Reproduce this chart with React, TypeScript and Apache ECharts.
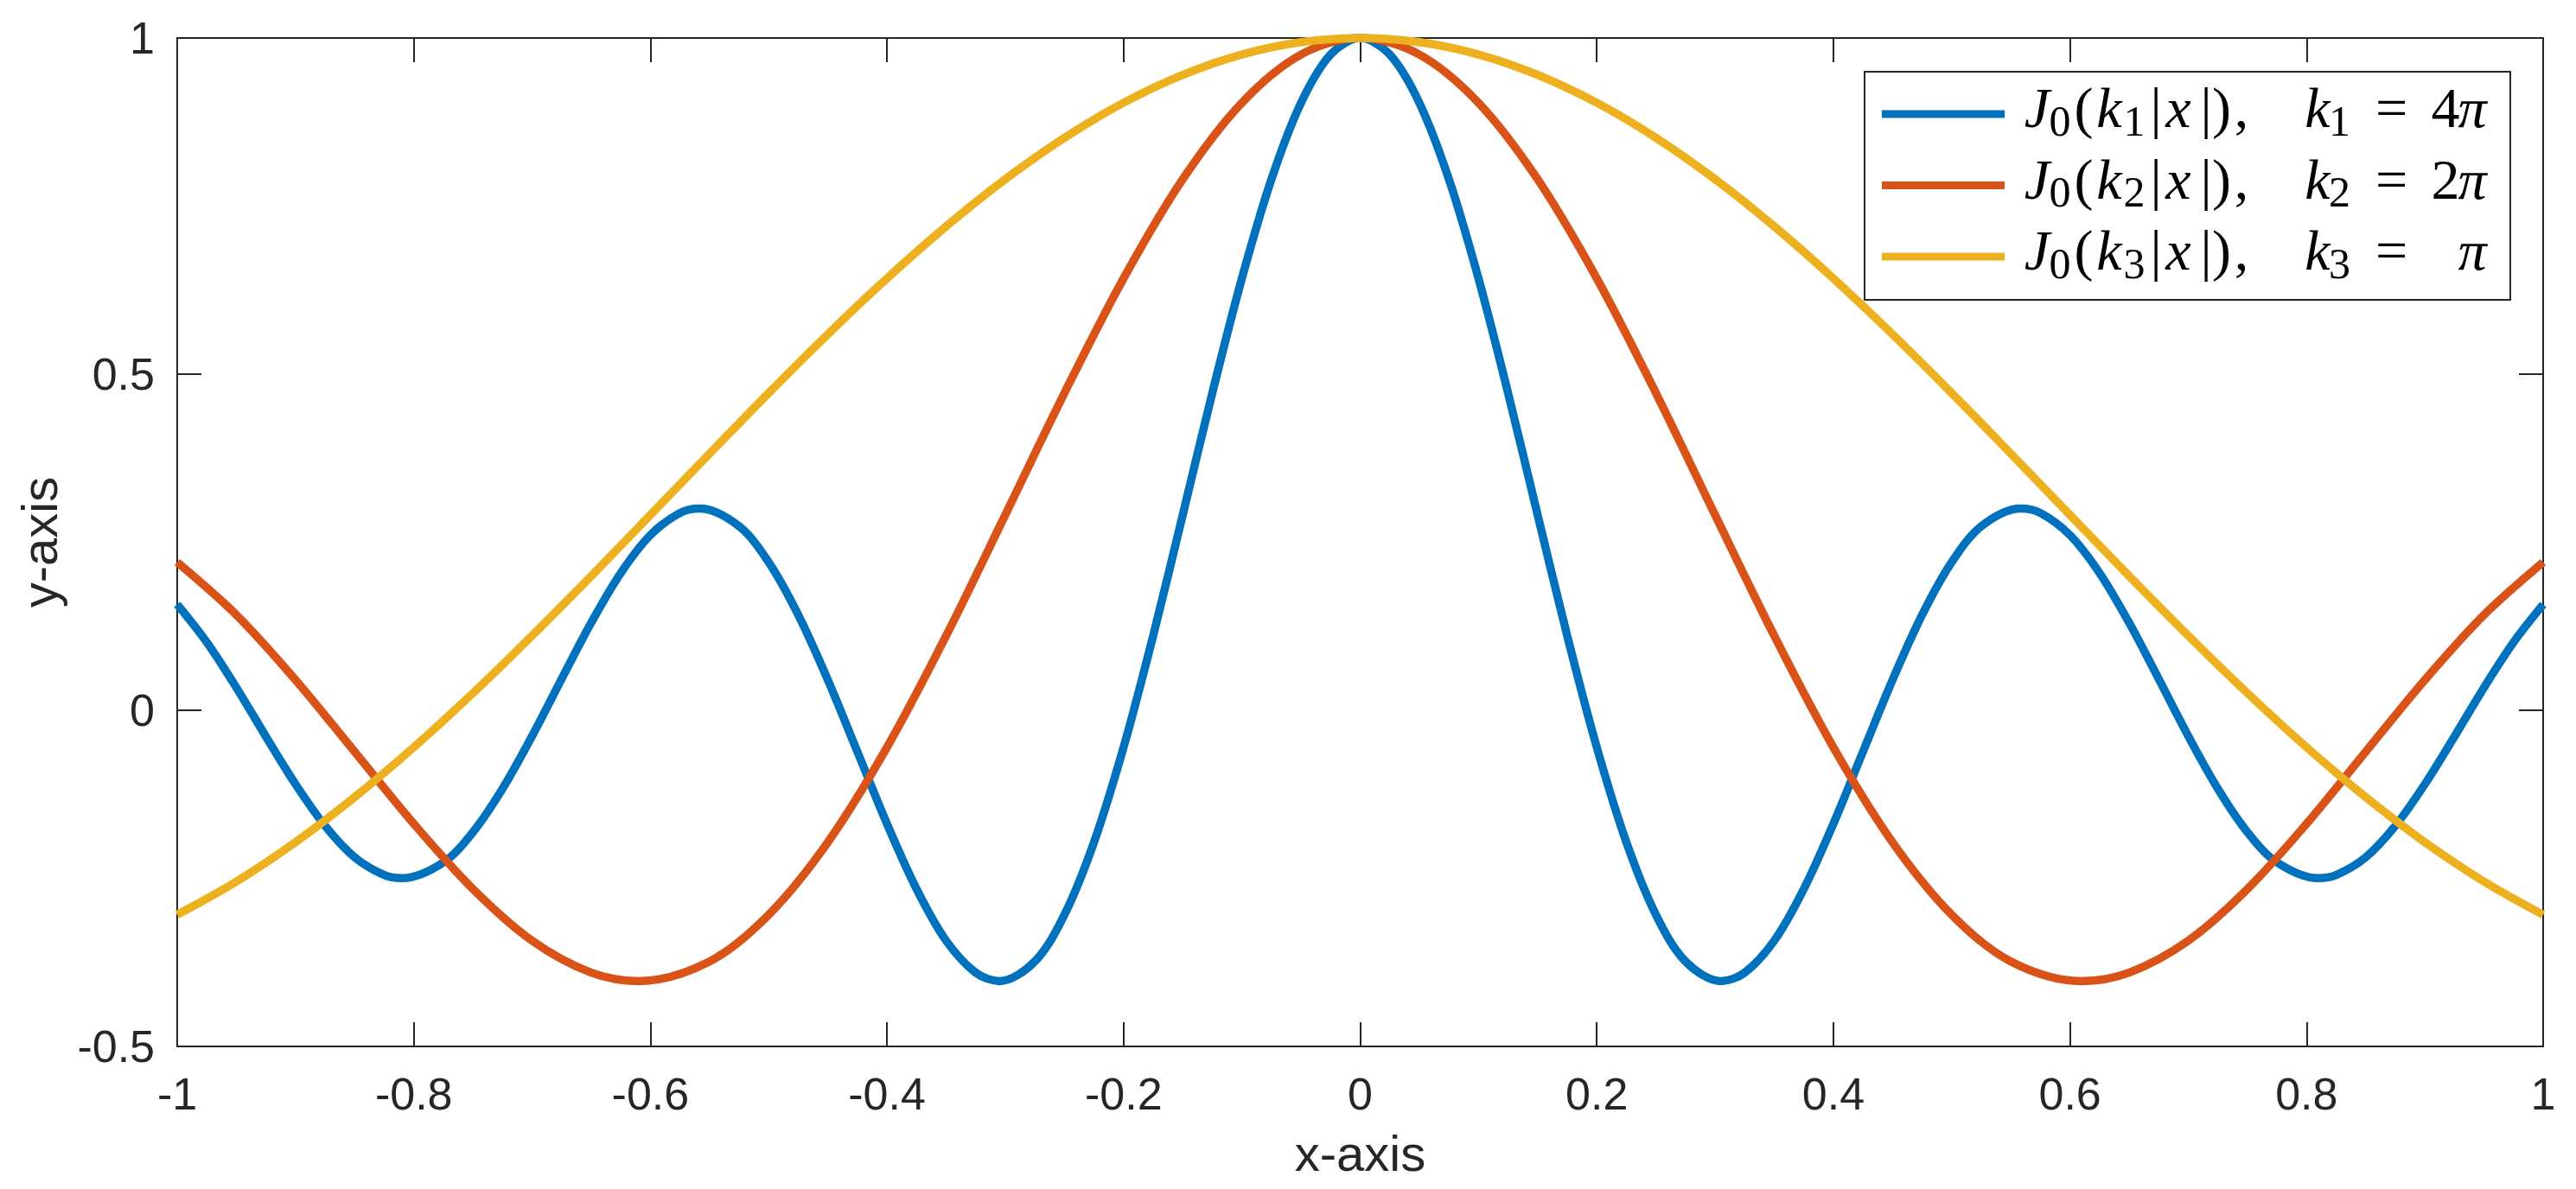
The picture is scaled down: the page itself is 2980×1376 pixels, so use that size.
import React, { useEffect, useRef } from 'react';
import * as echarts from 'echarts';

const X_FINE = [
  -1, -0.975, -0.95, -0.925, -0.9, -0.875, -0.85, -0.825, -0.8096, -0.775,
  -0.75, -0.725, -0.7, -0.675, -0.65, -0.625, -0.6, -0.575, -0.5583, -0.525,
  -0.5, -0.475, -0.45, -0.425, -0.4, -0.375, -0.35, -0.325, -0.3049, -0.275,
  -0.25, -0.225, -0.2, -0.175, -0.15, -0.125, -0.1, -0.075, -0.05, -0.025,
  0,
  0.025, 0.05, 0.075, 0.1, 0.125, 0.15, 0.175, 0.2, 0.225, 0.25,
  0.275, 0.3049, 0.325, 0.35, 0.375, 0.4, 0.425, 0.45, 0.475, 0.5,
  0.525, 0.5583, 0.575, 0.6, 0.625, 0.65, 0.675, 0.7, 0.725, 0.75,
  0.775, 0.8096, 0.825, 0.85, 0.875, 0.9, 0.925, 0.95, 0.975, 1,
];

const X_COARSE = [
  -1, -0.95, -0.9, -0.85, -0.8, -0.75, -0.7, -0.65, -0.6098, -0.55,
  -0.5, -0.45, -0.4, -0.35, -0.3, -0.25, -0.2, -0.15, -0.1, -0.05,
  0,
  0.05, 0.1, 0.15, 0.2, 0.25, 0.3, 0.35, 0.4, 0.45, 0.5,
  0.55, 0.6098, 0.65, 0.7, 0.75, 0.8, 0.85, 0.9, 0.95, 1,
];

const X_YELLOW = [
  -1, -0.95, -0.9, -0.85, -0.8, -0.75, -0.7, -0.65, -0.6, -0.55,
  -0.5, -0.45, -0.4, -0.35, -0.3, -0.25, -0.2, -0.15, -0.1, -0.05,
  0,
  0.05, 0.1, 0.15, 0.2, 0.25, 0.3, 0.35, 0.4, 0.45, 0.5,
  0.55, 0.6, 0.65, 0.7, 0.75, 0.8, 0.85, 0.9, 0.95, 1,
];

// J0(4π|x|) read at X_FINE
const BLUE = [
  0.1575, 0.1013, 0.0338, -0.0391, -0.1099, -0.172, -0.2187, -0.2451, -0.2497, -0.2262,
  -0.1812, -0.1166, -0.0383, 0.0467, 0.1304, 0.2043, 0.2606, 0.2936, 0.3001, 0.2737,
  0.2203, 0.1419, 0.0452, -0.0617, -0.1688, -0.2658, -0.3427, -0.3903, -0.4028, -0.3736,
  -0.3042, -0.1962, -0.055, 0.1109, 0.2906, 0.472, 0.6425, 0.79, 0.9037, 0.9755,
  1,
  0.9755, 0.9037, 0.79, 0.6425, 0.472, 0.2906, 0.1109, -0.055, -0.1962, -0.3042,
  -0.3736, -0.4028, -0.3903, -0.3427, -0.2658, -0.1688, -0.0617, 0.0452, 0.1419, 0.2203,
  0.2737, 0.3001, 0.2936, 0.2606, 0.2043, 0.1304, 0.0467, -0.0383, -0.1166, -0.1812,
  -0.2262, -0.2497, -0.2451, -0.2187, -0.172, -0.1099, -0.0391, 0.0338, 0.1013, 0.1575,
];

// J0(2π|x|) read at X_COARSE
const RED = [
  0.2203, 0.1419, 0.0452, -0.0617, -0.1688, -0.2658, -0.3427, -0.3903, -0.4028, -0.3736,
  -0.3042, -0.1962, -0.055, 0.1109, 0.2906, 0.472, 0.6425, 0.79, 0.9037, 0.9755,
  1,
  0.9755, 0.9037, 0.79, 0.6425, 0.472, 0.2906, 0.1109, -0.055, -0.1962, -0.3042,
  -0.3736, -0.4028, -0.3903, -0.3427, -0.2658, -0.1688, -0.0617, 0.0452, 0.1419, 0.2203,
];

// J0(π|x|) read at X_YELLOW
const YELLOW = [
  -0.3042, -0.2548, -0.1962, -0.1292, -0.055, 0.0255, 0.1109, 0.1997, 0.2906, 0.3818,
  0.472, 0.5594, 0.6425, 0.7198, 0.79, 0.8516, 0.9037, 0.9452, 0.9755, 0.9938,
  1,
  0.9938, 0.9755, 0.9452, 0.9037, 0.8516, 0.79, 0.7198, 0.6425, 0.5594, 0.472,
  0.3818, 0.2906, 0.1997, 0.1109, 0.0255, -0.055, -0.1292, -0.1962, -0.2548, -0.3042,
];

const SERIES_NAMES = [
  'J0(k1|x|),   k1 = 4π',
  'J0(k2|x|),   k2 = 2π',
  'J0(k3|x|),   k3 = π',
];
const SERIES_COLORS = ['#0072BD', '#D95319', '#EDB120'];
const SUBS = ['1', '2', '3'];
const COEFS = ['4', '2', '\u00a0'];

const AXIS_COLOR = '#262626';

const italic = (width: number) => ({
  fontFamily: 'Liberation Serif', fontStyle: 'italic', fontSize: 66, lineHeight: 56,
  padding: [0, 0, 15, 0], width, align: 'center', color: '#000',
});
const upright = (width: number) => ({
  fontFamily: 'Liberation Serif', fontStyle: 'normal', fontSize: 66, lineHeight: 56,
  padding: [0, 0, 15, 0], width, align: 'center', color: '#000',
});
const sub = (width: number) => ({
  fontFamily: 'Liberation Serif', fontStyle: 'normal', fontSize: 50, lineHeight: 56,
  padding: [15, 0, 0, 0], width, align: 'center', color: '#000',
});

const LEGEND_RICH = {
  sp0: upright(14),
  J: italic(37),
  s0: sub(16),
  lp: upright(39),
  k: italic(20),
  s1: sub(38),
  b1: upright(12),
  x: italic(40),
  b2: upright(24),
  rp: upright(12),
  cm: upright(34),
  sp: upright(57),
  k2: italic(28),
  s2: sub(23),
  eq: upright(97),
  n: upright(28),
  pi: italic(34),
};

const legendText = (i: number) =>
  `{sp0|\u00a0}{J|J}{s0|0}{lp|(}{k|k}{s1|${SUBS[i]}}{b1||}{x|x}{b2||}{rp|)}{cm|,}` +
  `{sp|\u00a0}{k2|k}{s2|${SUBS[i]}}{eq|=}{n|${COEFS[i]}}{pi|π}`;

const fmtTick = (v: number) => {
  const r = Math.round(v * 10) / 10;
  return r === 0 ? '0' : String(r);
};

export default function App() {
  const ref = useRef<HTMLDivElement>(null);
  useEffect(() => {
    if (!ref.current) return;
    const chart = echarts.init(ref.current, undefined, { renderer: 'svg' });
    const tickStyle = { inside: true, length: 28, lineStyle: { color: AXIS_COLOR, width: 2 } };
    const hiddenLine = { show: false, onZero: false };
    const labelFont = { fontFamily: 'Liberation Sans', fontSize: 52, color: AXIS_COLOR };
    const nameFont = { fontFamily: 'Liberation Sans', fontSize: 58, color: AXIS_COLOR };
    const seriesData = [
      X_FINE.map((x, i) => [x, BLUE[i]]),
      X_COARSE.map((x, i) => [x, RED[i]]),
      X_YELLOW.map((x, i) => [x, YELLOW[i]]),
    ];
    chart.setOption({
      animation: false,
      backgroundColor: '#ffffff',
      color: SERIES_COLORS,
      grid: {
        left: 205, right: 38, top: 44, bottom: 165,
        show: true, borderColor: AXIS_COLOR, borderWidth: 2, backgroundColor: 'transparent',
      },
      legend: {
        show: true,
        data: SERIES_NAMES,
        orient: 'vertical',
        left: 2157,
        top: 83,
        padding: [8.5, 27, 9.5, 20],
        itemGap: 1.5,
        itemWidth: 142,
        itemHeight: 9,
        icon: 'rect',
        selectedMode: false,
        backgroundColor: '#ffffff',
        borderColor: AXIS_COLOR,
        borderWidth: 2,
        formatter: (name: string) => legendText(SERIES_NAMES.indexOf(name)),
        textStyle: { fontFamily: 'Liberation Serif', fontSize: 66, rich: LEGEND_RICH },
      },
      xAxis: [
        {
          type: 'value', min: -1, max: 1, interval: 0.2, position: 'bottom',
          axisLine: hiddenLine, axisTick: tickStyle, splitLine: { show: false },
          axisLabel: { ...labelFont, margin: 29, formatter: fmtTick },
          name: 'x-axis', nameLocation: 'middle', nameGap: 94, nameTextStyle: nameFont,
        },
        {
          type: 'value', min: -1, max: 1, interval: 0.2, position: 'top',
          axisLine: hiddenLine, axisTick: tickStyle, splitLine: { show: false },
          axisLabel: { show: false },
        },
      ],
      yAxis: [
        {
          type: 'value', min: -0.5, max: 1, interval: 0.5, position: 'left',
          axisLine: hiddenLine, axisTick: tickStyle, splitLine: { show: false },
          axisLabel: { ...labelFont, margin: 26, formatter: fmtTick },
          name: 'y-axis', nameLocation: 'middle', nameGap: 131, nameTextStyle: nameFont,
        },
        {
          type: 'value', min: -0.5, max: 1, interval: 0.5, position: 'right',
          axisLine: hiddenLine, axisTick: tickStyle, splitLine: { show: false },
          axisLabel: { show: false },
        },
      ],
      series: SERIES_NAMES.map((name, i) => ({
        name,
        type: 'line',
        xAxisIndex: 0,
        yAxisIndex: 0,
        data: seriesData[i],
        showSymbol: false,
        smooth: 0.33,
        clip: false,
        lineStyle: { width: 9.5, color: SERIES_COLORS[i] },
        itemStyle: { color: SERIES_COLORS[i] },
        emphasis: { disabled: true },
      })),
    });
    return () => chart.dispose();
  }, []);
  return (
    <div
      ref={ref}
      style={{ position: 'fixed', left: 0, top: 0, width: 2980, height: 1376 }}
    />
  );
}
